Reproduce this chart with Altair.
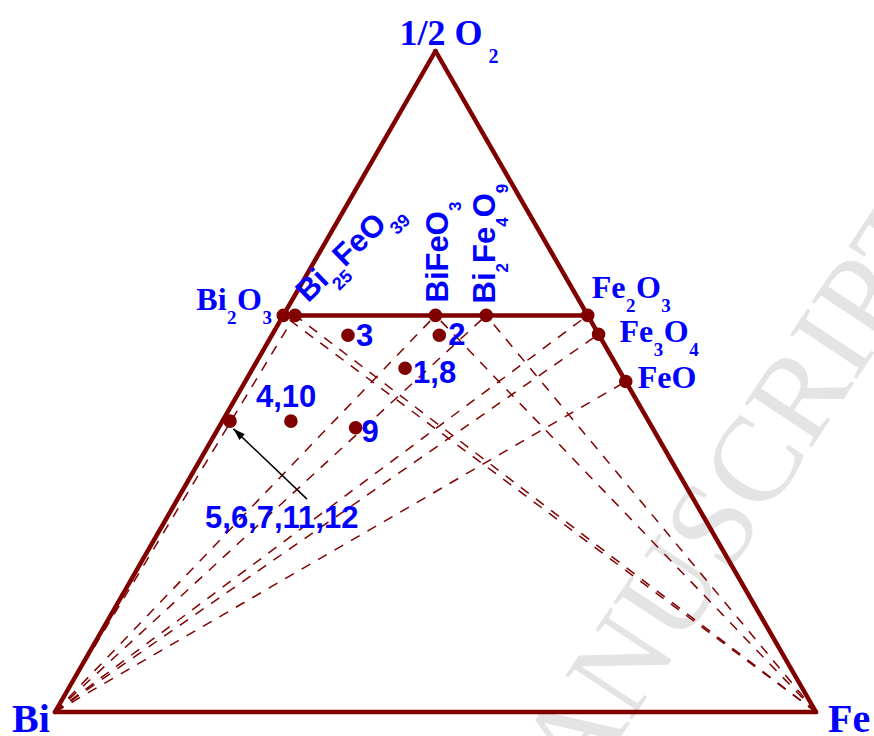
import math

import altair as alt
import pandas as pd

# ---------------------------------------------------------------------------
# Bi - Fe - 1/2 O2 ternary section
# ---------------------------------------------------------------------------

# Corners of the diagram (atoms of Bi, Fe, O)
corner_names = ["Bi", "Fe", "O"]
corner_bi = [1, 0, 0]
corner_fe = [0, 1, 0]
corner_o = [0, 0, 1]

# Oxide phases, atoms per formula unit
phase_names = ["Bi2O3", "Bi25FeO39", "BiFeO3", "Bi2Fe4O9", "Fe2O3", "Fe3O4", "FeO"]
phase_bi = [2, 25, 1, 2, 0, 0, 0]
phase_fe = [0, 1, 1, 4, 2, 3, 1]
phase_o = [3, 39, 3, 9, 3, 4, 1]

# Overall sample compositions (atomic fractions Bi, Fe, O)
sample_labels = ["3", "2", "1,8", "4,10", "9", "5,6,7,11,12"]
sample_bi = [0.33, 0.21, 0.28, 0.47, 0.39, 0.55]
sample_fe = [0.10, 0.22, 0.20, 0.09, 0.18, 0.01]
sample_o = [0.57, 0.57, 0.52, 0.44, 0.43, 0.44]

# Tie lines (dashed) between a metal corner and an oxide
tie_from = ["Bi", "Bi", "Bi", "Bi", "Bi", "Bi", "Fe", "Fe", "Fe", "Fe"]
tie_to = ["Bi25FeO39", "BiFeO3", "Bi2Fe4O9", "Fe2O3", "Fe3O4", "FeO",
          "Bi2O3", "Bi25FeO39", "BiFeO3", "Bi2Fe4O9"]

# Solid boundaries: triangle sides and the Bi2O3 - Fe2O3 join
edge_from = ["Bi", "O", "Fe", "Bi2O3"]
edge_to = ["O", "Fe", "Bi", "Fe2O3"]

# ---------------------------------------------------------------------------
# Frame geometry
# ---------------------------------------------------------------------------
W, H = 874, 736
ORIGIN_X, ORIGIN_Y = 55, 712      # Bi corner on the page
UNIT_X, UNIT_Y = 761, 661         # Bi->Fe length, base->apex height
X_DOMAIN = [-ORIGIN_X / UNIT_X, (W - ORIGIN_X) / UNIT_X]
Y_DOMAIN = [-(H - ORIGIN_Y) / UNIT_Y, ORIGIN_Y / UNIT_Y]

DARK_RED = "#800000"
BLUE = "#0000ff"
SERIF = "Liberation Serif"
SANS = "Liberation Sans"


def ternary_xy(bi, fe, o):
    total = bi + fe + o
    fe, o = fe / total, o / total
    return fe + o / 2.0, o


points = {}
for n, b, f, o in zip(corner_names, corner_bi, corner_fe, corner_o):
    points[n] = ternary_xy(b, f, o)
for n, b, f, o in zip(phase_names, phase_bi, phase_fe, phase_o):
    points[n] = ternary_xy(b, f, o)

phase_df = pd.DataFrame(
    [{"name": n, "x": points[n][0], "y": points[n][1]} for n in phase_names]
)
sample_df = pd.DataFrame(
    [dict(zip(["label", "x", "y"], (lab, *ternary_xy(b, f, o))))
     for lab, b, f, o in zip(sample_labels, sample_bi, sample_fe, sample_o)]
)


def segments(starts, ends):
    return pd.DataFrame([
        {"x": points[a][0], "y": points[a][1], "x2": points[b][0], "y2": points[b][1]}
        for a, b in zip(starts, ends)
    ])


tie_df = segments(tie_from, tie_to)
edge_df = segments(edge_from, edge_to)

X = alt.X("x:Q", scale=alt.Scale(domain=X_DOMAIN, nice=False, zero=False), axis=None)
Y = alt.Y("y:Q", scale=alt.Scale(domain=Y_DOMAIN, nice=False, zero=False), axis=None)


def shift(xy, dx_px, dy_px):
    return xy[0] + dx_px / UNIT_X, xy[1] - dy_px / UNIT_Y


# ---------------------------------------------------------------------------
# Text with subscripts: each piece is placed along the baseline
# ---------------------------------------------------------------------------
ADVANCE = {
    SERIF: {"B": .667, "i": .278, "O": .778, "F": .611, "e": .444, "/": .278,
            " ": .25, ",": .25, "digit": .5},
    SANS: {"B": .722, "i": .278, "O": .778, "F": .611, "e": .556, "/": .278,
           " ": .278, ",": .278, "digit": .556},
}


def text_width(text, size, font):
    table = ADVANCE[font]
    return sum(table["digit"] if c.isdigit() else table.get(c, .6) for c in text) * size


def formula(anchor, dx, dy, pieces, font, size, sub_size, sub_shift, angle=0, gap=0.0):
    th = math.radians(angle)
    ux, uy = math.cos(th), math.sin(th)
    vx, vy = -math.sin(th), math.cos(th)
    rows, u = [], 0.0
    for text, is_sub in pieces:
        s = sub_size if is_sub else size
        v = sub_shift if is_sub else 0.0
        x, y = shift(anchor, dx + u * ux + v * vx, dy + u * uy + v * vy)
        rows.append({"x": x, "y": y, "text": text, "size": s, "angle": angle, "font": font})
        u += text_width(text, s, font) + gap
    return rows


label_rows = []
label_rows += formula(points["O"], -36, -6, [("1/2 O", 0), ("2", 1)], SERIF, 36, 20, 18, gap=6)
label_rows += formula(points["Bi"], -43, 20, [("Bi", 0)], SERIF, 40, 18, 14)
label_rows += formula(points["Fe"], 12, 20, [("Fe", 0)], SERIF, 40, 18, 14)
label_rows += formula(points["Bi2O3"], -87, -5,
                      [("Bi", 0), ("2", 1), ("O", 0), ("3", 1)], SERIF, 32, 19, 14, gap=0.5)
label_rows += formula(points["Fe2O3"], 4, -17,
                      [("Fe", 0), ("2", 1), ("O", 0), ("3", 1)], SERIF, 32, 19, 14, gap=0.5)
label_rows += formula(points["Fe3O4"], 21, 8,
                      [("Fe", 0), ("3", 1), ("O", 0), ("4", 1)], SERIF, 32, 19, 14, gap=0.5)
label_rows += formula(points["FeO"], 12, 6.5, [("FeO", 0)], SERIF, 32, 19, 14)
label_rows += formula(points["Bi25FeO39"], 13, -12,
                      [("Bi", 0), ("25", 1), ("FeO", 0), ("39", 1)], SANS, 31, 18, 13, angle=316)
label_rows += formula(points["BiFeO3"], 12.5, -13,
                      [("BiFeO", 0), ("3", 1)], SANS, 31, 17, 13, angle=270)
label_rows += formula(points["Bi2Fe4O9"], 9, -12,
                      [("Bi", 0), ("2", 1), ("Fe", 0), ("4", 1), ("O", 0), ("9", 1)],
                      SANS, 31, 17, 13, angle=270)

# sample numbers beside their dots
sample_offsets = {"3": (8, 11), "2": (9, 10), "1,8": (8, 15), "4,10": (-35, -14),
                  "9": (6, 14), "5,6,7,11,12": (-25, 107)}
for lab, x, y in zip(sample_df["label"], sample_df["x"], sample_df["y"]):
    dx, dy = sample_offsets[lab]
    label_rows += formula((x, y), dx, dy, [(lab, 0)], SANS, 31, 16, 13)

labels_df = pd.DataFrame(label_rows)

# ---------------------------------------------------------------------------
# Layers
# ---------------------------------------------------------------------------
watermark = alt.Chart(pd.DataFrame({"k": [0]})).mark_text(
    text="ACCEPTED MANUSCRIPT", font=SERIF, fontSize=122, color="#e4e4e4",
    align="right", baseline="alphabetic", angle=303.4,
).encode(x=alt.value(955), y=alt.value(230))

ties = alt.Chart(tie_df).mark_rule(
    color=DARK_RED, strokeWidth=1.5, strokeDash=[10, 9]
).encode(x=X, y=Y, x2="x2:Q", y2="y2:Q")

edges = alt.Chart(edge_df).mark_rule(
    color=DARK_RED, strokeWidth=4.5, strokeCap="round"
).encode(x=X, y=Y, x2="x2:Q", y2="y2:Q")

# arrow from the "5,6,7,11,12" label to its point on the Bi-O side
target = (sample_df["x"].iloc[-1], sample_df["y"].iloc[-1])
tip = shift(target, 3.4, 7.7)
tail = shift(target, 77, 78)
arrow_df = pd.DataFrame([{"x": tail[0], "y": tail[1], "x2": tip[0], "y2": tip[1]}])
dxp = (tip[0] - tail[0]) * UNIT_X
dyp = -(tip[1] - tail[1]) * UNIT_Y
head_angle = math.degrees(math.atan2(dxp, -dyp)) % 360
head_df = pd.DataFrame([{"x": tip[0], "y": tip[1]}])

arrow_line = alt.Chart(arrow_df).mark_rule(color="black", strokeWidth=1.5).encode(
    x=X, y=Y, x2="x2:Q", y2="y2:Q"
)
arrow_head = alt.Chart(head_df).mark_point(
    shape="M0,0L0.32,1L-0.32,1Z", size=576, filled=True, color="black",
    opacity=1, angle=head_angle, strokeWidth=0,
).encode(x=X, y=Y)

phase_dots = alt.Chart(phase_df).mark_circle(size=185, color=DARK_RED, opacity=1).encode(x=X, y=Y)
sample_dots = alt.Chart(sample_df).mark_circle(size=185, color=DARK_RED, opacity=1).encode(x=X, y=Y)


def text_layer(font):
    return alt.Chart(labels_df[labels_df["font"] == font]).mark_text(
        font=font, fontWeight="bold", color=BLUE, align="left", baseline="alphabetic"
    ).encode(
        x=X, y=Y,
        text="text:N",
        size=alt.Size("size:Q", scale=None, legend=None),
        angle=alt.Angle("angle:Q", scale=None),
    )


chart = alt.layer(
    watermark, ties, edges, arrow_line, arrow_head, phase_dots, sample_dots,
    text_layer(SERIF), text_layer(SANS),
).properties(
    width=W, height=H, padding=0, autosize=alt.AutoSizeParams(type="none"),
    background="white",
).configure_view(stroke=None)

chart.save("out.html", embed_options={"renderer": "svg", "actions": False})
